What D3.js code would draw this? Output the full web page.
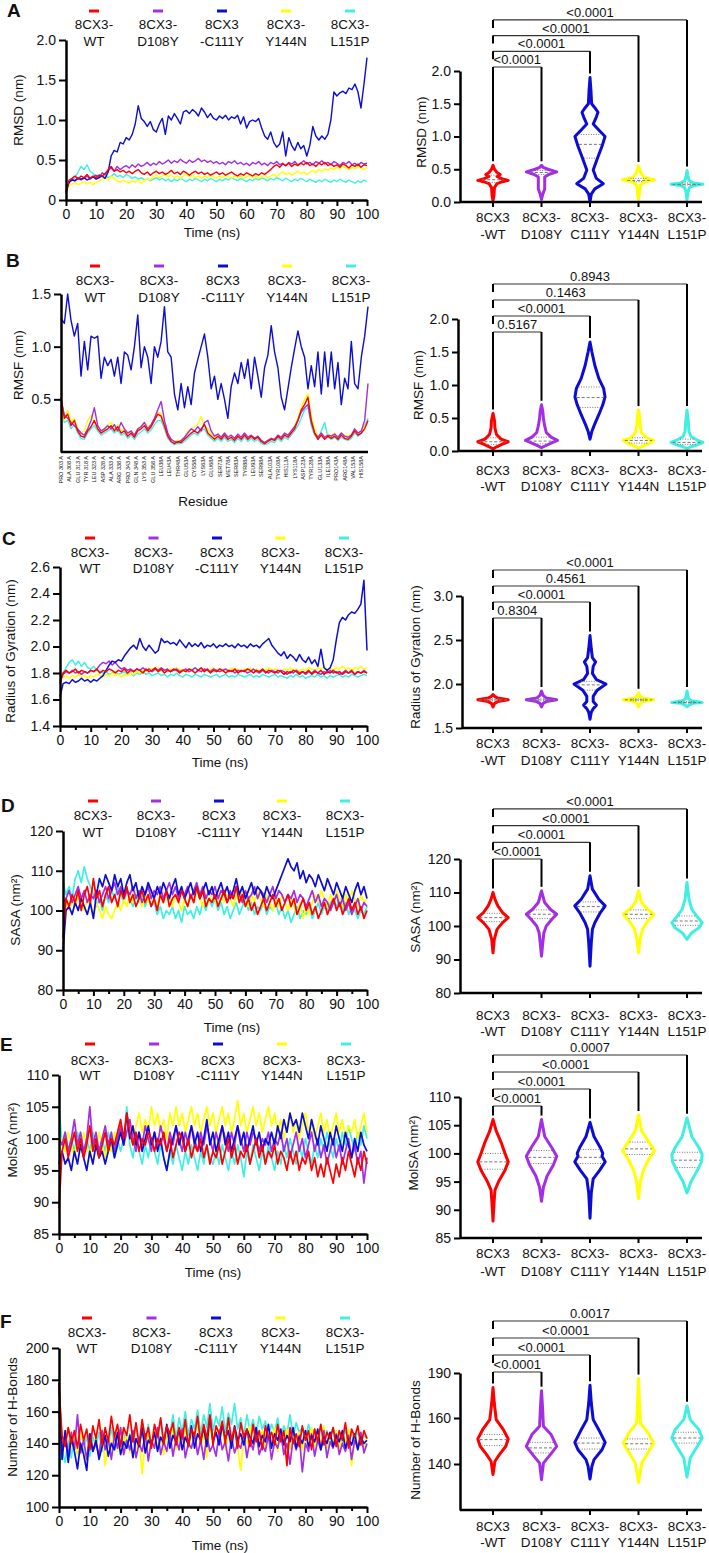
<!DOCTYPE html>
<html>
<head>
<meta charset="utf-8">
<script src="https://cdn.jsdelivr.net/npm/d3@7"></script>
<style>
  body { margin: 0; background: #fff; }
  svg text { font-family: "Liberation Sans", Arial, sans-serif; fill: #111; }
</style>
</head>
<body>
<svg id="fig" width="709" height="1553"></svg>
<script>
// --- Groups / labels ---
const groups = ["WT", "D108Y", "C111Y", "Y144N", "L151P"];
const groupColors = ["#ff0000", "#a32ee6", "#0c0cd4", "#ffff00", "#3ff0e2"];
const legendLines = [["8CX3-", "WT"], ["8CX3-", "D108Y"], ["8CX3", "-C111Y"], ["8CX3-", "Y144N"], ["8CX3-", "L151P"]];
const categoryLines = [["8CX3", "-WT"], ["8CX3-", "D108Y"], ["8CX3-", "C111Y"], ["8CX3-", "Y144N"], ["8CX3-", "L151P"]];
const timeTicks = [0, 5, 10, 15, 20, 25, 30, 35, 40, 45, 50, 55, 60, 65, 70, 75, 80, 85, 90, 95, 100];

const residueLabels = ["PRO 303 A","ALA 308 A","GLU 313 A","TYR 318 A","LEU 323 A","ASP 328 A","ALA 333 A","ARG 338 A",
  "PRO 343 A","GLN 348 A","LYS 353 A","GLU 358 A","LEU38A","LEU43A","THR48A","GLU53A","CYS58A","LYS63A","GLU68A",
  "SER73A","MET78A","SER83A","TYR88A","LEU93A","SER98A","ALA103A","TYR108A","HIS113A","LYS118A","ASP123A",
  "TYR128A","GLU133A","ILE138A","PRO143A","ARG148A","VAL153A","HIS158A"];

// --- RMSD (nm), 0..100 ns ---
const rmsdWT = [0.08,0.25,0.27,0.30,0.26,0.30,0.28,0.32,0.27,0.30,
  0.28,0.31,0.30,0.33,0.38,0.42,0.36,0.38,0.35,0.37,
  0.34,0.36,0.33,0.36,0.38,0.34,0.32,0.35,0.31,0.34,
  0.36,0.33,0.35,0.32,0.34,0.37,0.33,0.35,0.32,0.36,
  0.34,0.31,0.34,0.36,0.33,0.35,0.32,0.34,0.31,0.33,
  0.35,0.32,0.34,0.31,0.33,0.35,0.32,0.30,0.33,0.31,
  0.34,0.32,0.30,0.33,0.31,0.34,0.32,0.35,0.38,0.42,
  0.44,0.41,0.45,0.43,0.46,0.42,0.45,0.43,0.46,0.44,
  0.47,0.43,0.45,0.42,0.46,0.44,0.47,0.43,0.45,0.42,
  0.44,0.41,0.45,0.43,0.40,0.44,0.42,0.45,0.41,0.44,0.43];
const rmsdD108Y = [0.10,0.22,0.26,0.24,0.28,0.25,0.27,0.30,0.26,0.29,
  0.31,0.28,0.34,0.32,0.37,0.40,0.36,0.42,0.38,0.41,
  0.43,0.40,0.44,0.41,0.45,0.42,0.44,0.47,0.43,0.46,
  0.44,0.48,0.45,0.47,0.50,0.46,0.49,0.47,0.51,0.48,
  0.46,0.50,0.47,0.49,0.52,0.48,0.50,0.47,0.49,0.46,
  0.48,0.45,0.47,0.44,0.48,0.46,0.49,0.45,0.47,0.44,
  0.46,0.43,0.47,0.45,0.48,0.44,0.46,0.43,0.47,0.45,
  0.48,0.44,0.46,0.43,0.47,0.45,0.48,0.44,0.46,0.49,
  0.45,0.47,0.44,0.48,0.46,0.49,0.45,0.47,0.44,0.48,
  0.46,0.43,0.47,0.45,0.48,0.44,0.46,0.43,0.47,0.45,0.46];
const rmsdC111Y = [0.10,0.22,0.25,0.24,0.27,0.26,0.28,0.25,0.27,0.29,
  0.26,0.28,0.30,0.27,0.35,0.55,0.62,0.60,0.72,0.70,
  0.78,0.75,0.82,0.95,1.18,1.02,0.98,0.92,0.98,0.88,
  0.85,0.95,1.02,0.82,1.05,1.00,1.08,1.02,0.95,1.10,
  1.12,1.08,1.13,1.10,1.05,1.15,1.10,1.03,1.08,1.02,
  1.00,1.05,1.02,1.06,1.00,1.04,1.02,1.06,0.95,1.04,
  0.90,0.98,1.00,0.98,1.02,0.90,0.80,0.76,0.85,0.72,
  0.66,0.70,0.85,0.55,0.78,0.68,0.62,0.72,0.64,0.68,
  0.55,0.68,0.92,0.80,0.75,0.80,0.76,0.82,1.00,1.35,
  1.30,1.34,1.36,1.33,1.40,1.38,1.45,1.35,1.15,1.45,1.78];
const rmsdY144N = [0.08,0.18,0.20,0.22,0.19,0.21,0.23,0.20,0.22,0.19,
  0.22,0.24,0.26,0.28,0.25,0.30,0.27,0.24,0.22,0.25,
  0.23,0.21,0.24,0.22,0.25,0.21,0.24,0.27,0.25,0.29,
  0.31,0.28,0.30,0.32,0.29,0.31,0.28,0.30,0.27,0.30,
  0.32,0.29,0.31,0.28,0.30,0.27,0.30,0.28,0.31,0.29,
  0.27,0.30,0.28,0.31,0.29,0.27,0.30,0.28,0.30,0.27,
  0.29,0.31,0.28,0.30,0.27,0.29,0.31,0.28,0.30,0.32,
  0.29,0.33,0.35,0.32,0.34,0.31,0.33,0.36,0.33,0.35,
  0.32,0.35,0.37,0.34,0.38,0.36,0.39,0.37,0.40,0.38,
  0.41,0.39,0.42,0.40,0.38,0.41,0.39,0.42,0.40,0.38,0.41];
const rmsdL151P = [0.10,0.22,0.25,0.28,0.35,0.42,0.38,0.44,0.36,0.33,
  0.30,0.32,0.29,0.31,0.28,0.30,0.33,0.29,0.31,0.28,
  0.32,0.30,0.27,0.29,0.26,0.28,0.25,0.27,0.24,0.26,
  0.28,0.25,0.27,0.24,0.26,0.23,0.26,0.24,0.27,0.25,
  0.23,0.26,0.24,0.27,0.25,0.23,0.26,0.24,0.27,0.25,
  0.23,0.26,0.24,0.27,0.25,0.28,0.26,0.24,0.27,0.25,
  0.23,0.26,0.24,0.27,0.25,0.28,0.26,0.24,0.27,0.25,
  0.28,0.26,0.24,0.27,0.25,0.23,0.26,0.24,0.27,0.25,
  0.23,0.26,0.24,0.22,0.25,0.23,0.26,0.24,0.22,0.25,
  0.23,0.26,0.24,0.22,0.25,0.23,0.21,0.24,0.22,0.25,0.23];

// --- RMSF (nm), every 2nd residue along the chain ---
const rmsfWT = [0.52,0.32,0.36,0.25,0.30,0.20,0.15,0.14,0.20,0.24,
  0.30,0.22,0.18,0.20,0.22,0.25,0.20,0.24,0.18,0.20,
  0.15,0.18,0.14,0.20,0.22,0.25,0.20,0.24,0.30,0.36,
  0.34,0.25,0.15,0.10,0.08,0.10,0.09,0.12,0.15,0.18,
  0.20,0.18,0.22,0.26,0.18,0.15,0.12,0.15,0.12,0.16,
  0.12,0.14,0.11,0.15,0.12,0.16,0.12,0.15,0.12,0.14,
  0.10,0.08,0.10,0.12,0.11,0.15,0.12,0.16,0.14,0.18,
  0.22,0.30,0.40,0.45,0.52,0.30,0.18,0.12,0.16,0.12,
  0.15,0.13,0.15,0.12,0.16,0.13,0.12,0.15,0.20,0.16,
  0.18,0.22,0.30];
const rmsfD108Y = [0.50,0.35,0.32,0.28,0.25,0.22,0.18,0.16,0.22,0.30,
  0.42,0.25,0.20,0.22,0.25,0.22,0.26,0.20,0.28,0.22,
  0.18,0.20,0.16,0.22,0.24,0.28,0.22,0.26,0.32,0.40,
  0.48,0.30,0.18,0.12,0.10,0.09,0.11,0.14,0.18,0.22,
  0.20,0.24,0.20,0.28,0.30,0.20,0.15,0.17,0.14,0.18,
  0.14,0.16,0.13,0.17,0.14,0.18,0.14,0.16,0.13,0.15,
  0.11,0.09,0.11,0.13,0.12,0.16,0.14,0.18,0.16,0.20,
  0.24,0.30,0.38,0.42,0.45,0.28,0.18,0.14,0.18,0.14,
  0.16,0.15,0.17,0.14,0.18,0.15,0.14,0.16,0.22,0.18,
  0.20,0.30,0.65];
const rmsfC111Y = [1.27,1.22,1.50,1.25,1.10,1.22,0.72,1.05,0.78,1.10,
  1.08,1.10,0.70,0.90,0.82,0.88,0.72,0.90,0.65,0.95,
  0.92,0.78,1.00,1.30,0.80,1.00,0.90,0.65,1.00,0.90,
  1.05,1.38,0.95,0.90,0.55,0.40,0.65,0.42,0.62,0.45,
  0.75,0.88,1.00,1.12,0.90,0.60,0.72,0.50,0.65,0.50,
  0.32,0.62,0.75,0.65,0.85,0.70,0.88,0.60,0.90,0.72,
  0.52,0.80,0.92,1.20,0.95,0.80,0.52,0.40,0.60,0.80,
  0.98,1.15,1.00,0.90,0.60,0.82,0.62,0.95,0.55,0.95,
  0.62,0.95,0.60,0.85,0.45,0.70,0.60,1.05,0.65,0.60,
  0.90,1.10,1.38];
const rmsfY144N = [0.48,0.30,0.40,0.28,0.32,0.22,0.18,0.20,0.30,0.35,
  0.28,0.24,0.20,0.22,0.26,0.28,0.22,0.26,0.20,0.22,
  0.17,0.20,0.16,0.22,0.25,0.28,0.24,0.26,0.30,0.38,
  0.36,0.27,0.17,0.12,0.10,0.11,0.10,0.13,0.20,0.22,
  0.24,0.26,0.34,0.24,0.22,0.17,0.14,0.17,0.14,0.17,
  0.14,0.16,0.13,0.16,0.14,0.17,0.13,0.16,0.13,0.15,
  0.11,0.09,0.11,0.13,0.12,0.16,0.13,0.17,0.15,0.20,
  0.25,0.32,0.42,0.50,0.55,0.34,0.22,0.15,0.18,0.14,
  0.17,0.15,0.18,0.14,0.18,0.16,0.15,0.17,0.21,0.18,
  0.20,0.24,0.28];
const rmsfL151P = [0.45,0.28,0.30,0.22,0.26,0.18,0.13,0.12,0.18,0.22,
  0.25,0.20,0.16,0.18,0.20,0.22,0.18,0.21,0.16,0.18,
  0.13,0.16,0.12,0.17,0.19,0.22,0.18,0.21,0.26,0.30,
  0.30,0.22,0.13,0.09,0.07,0.08,0.08,0.10,0.13,0.16,
  0.18,0.16,0.20,0.22,0.16,0.13,0.10,0.13,0.10,0.14,
  0.10,0.12,0.09,0.13,0.10,0.14,0.10,0.13,0.10,0.12,
  0.08,0.07,0.08,0.10,0.09,0.13,0.10,0.14,0.12,0.16,
  0.20,0.25,0.32,0.40,0.42,0.25,0.16,0.12,0.20,0.28,
  0.14,0.12,0.14,0.11,0.14,0.12,0.11,0.13,0.18,0.15,
  0.18,0.25,0.32];

// --- Radius of gyration (nm) ---
const rgWT = [1.72,1.80,1.82,1.80,1.81,1.83,1.80,1.82,1.81,1.80,
  1.82,1.81,1.83,1.80,1.82,1.81,1.83,1.82,1.80,1.82,
  1.81,1.83,1.80,1.82,1.81,1.83,1.82,1.80,1.83,1.81,
  1.82,1.84,1.81,1.83,1.80,1.82,1.81,1.83,1.82,1.80,
  1.82,1.81,1.83,1.82,1.80,1.82,1.84,1.81,1.83,1.80,
  1.82,1.81,1.83,1.82,1.80,1.82,1.81,1.83,1.80,1.82,
  1.81,1.83,1.82,1.80,1.82,1.81,1.83,1.80,1.82,1.81,
  1.80,1.82,1.81,1.79,1.81,1.80,1.82,1.81,1.79,1.81,
  1.80,1.82,1.79,1.81,1.80,1.82,1.79,1.81,1.80,1.82,
  1.80,1.81,1.79,1.81,1.80,1.82,1.79,1.81,1.80,1.81,1.80];
const rgD108Y = [1.74,1.79,1.81,1.80,1.82,1.80,1.81,1.79,1.81,1.80,
  1.82,1.81,1.83,1.86,1.88,1.87,1.89,1.86,1.88,1.85,
  1.83,1.84,1.82,1.83,1.81,1.83,1.82,1.84,1.82,1.83,
  1.81,1.83,1.82,1.84,1.82,1.83,1.81,1.82,1.83,1.81,
  1.82,1.83,1.81,1.82,1.84,1.82,1.81,1.83,1.82,1.81,
  1.83,1.82,1.81,1.82,1.83,1.81,1.82,1.80,1.82,1.81,
  1.82,1.80,1.81,1.83,1.81,1.80,1.82,1.81,1.80,1.82,
  1.81,1.80,1.82,1.81,1.79,1.81,1.80,1.82,1.80,1.81,
  1.79,1.81,1.80,1.82,1.80,1.79,1.81,1.80,1.82,1.80,
  1.81,1.79,1.80,1.82,1.80,1.81,1.79,1.81,1.80,1.82,1.80];
const rgC111Y = [1.62,1.72,1.73,1.72,1.75,1.73,1.74,1.76,1.74,1.75,
  1.73,1.75,1.74,1.76,1.78,1.82,1.86,1.89,1.88,1.90,
  1.89,1.93,1.96,1.99,2.01,1.98,2.06,2.00,1.97,2.01,
  1.98,1.95,1.97,2.06,2.03,2.04,2.02,2.03,2.01,2.05,
  2.02,1.99,2.03,2.00,2.02,2.00,2.03,1.99,2.01,2.00,
  2.02,1.99,2.01,2.00,2.02,2.00,2.01,1.99,2.02,2.00,
  2.01,1.99,2.02,2.00,2.01,1.99,2.02,2.04,2.06,2.01,
  1.98,1.95,1.93,1.96,1.91,1.94,1.92,1.89,1.94,1.90,
  1.88,1.92,1.87,1.90,1.85,1.98,1.84,1.82,1.84,1.90,
  2.05,2.18,2.22,2.20,2.24,2.26,2.25,2.28,2.32,2.50,1.97];
const rgY144N = [1.76,1.77,1.78,1.76,1.78,1.77,1.79,1.77,1.78,1.76,
  1.78,1.77,1.79,1.78,1.77,1.79,1.78,1.80,1.78,1.79,
  1.77,1.79,1.78,1.80,1.79,1.81,1.80,1.82,1.81,1.84,
  1.83,1.82,1.84,1.82,1.83,1.81,1.83,1.82,1.84,1.82,
  1.83,1.81,1.83,1.82,1.84,1.82,1.83,1.81,1.83,1.82,
  1.84,1.82,1.83,1.81,1.83,1.82,1.84,1.82,1.83,1.81,
  1.83,1.82,1.84,1.82,1.83,1.81,1.83,1.82,1.84,1.82,
  1.83,1.82,1.81,1.83,1.82,1.84,1.82,1.83,1.81,1.83,
  1.82,1.84,1.83,1.82,1.84,1.83,1.85,1.83,1.84,1.82,
  1.84,1.83,1.85,1.83,1.84,1.82,1.84,1.83,1.85,1.83,1.84];
const rgL151P = [1.76,1.80,1.84,1.88,1.90,1.86,1.89,1.85,1.88,1.84,
  1.83,1.85,1.82,1.81,1.80,1.81,1.79,1.80,1.81,1.79,
  1.80,1.81,1.79,1.80,1.78,1.80,1.79,1.81,1.79,1.80,
  1.78,1.79,1.80,1.78,1.79,1.77,1.79,1.78,1.80,1.78,
  1.77,1.79,1.78,1.77,1.79,1.78,1.77,1.79,1.78,1.77,
  1.78,1.79,1.77,1.78,1.79,1.77,1.78,1.77,1.79,1.78,
  1.77,1.78,1.79,1.77,1.78,1.77,1.79,1.78,1.77,1.78,
  1.79,1.77,1.78,1.77,1.76,1.78,1.77,1.79,1.77,1.78,
  1.76,1.77,1.78,1.77,1.79,1.77,1.78,1.76,1.78,1.77,
  1.78,1.79,1.77,1.78,1.77,1.79,1.78,1.77,1.78,1.79,1.78];

// --- SASA (nm2) ---
const sasaWT = [93,103,101,104,102,105,100,104,106,102,
  108,103,105,101,104,106,102,104,101,105,
  103,106,102,104,101,103,105,102,104,101,
  103,100,104,102,105,101,103,104,102,105,
  103,101,104,102,106,103,105,101,103,102,
  104,101,103,105,102,104,103,106,102,104,
  101,103,100,102,99,101,103,100,102,104,
  101,103,100,102,104,101,103,99,101,103,
  100,102,99,101,98,100,102,99,101,103,
  100,102,99,101,103,100,102,99,101,98,100];
const sasaD108Y = [102,103,105,102,104,106,103,105,102,104,
  103,105,102,104,106,103,105,107,104,106,
  103,105,104,106,103,105,102,104,106,103,
  105,104,106,103,105,107,104,106,103,105,
  104,106,103,105,107,104,106,103,105,104,
  106,103,105,104,102,105,103,106,104,102,
  105,103,104,106,103,105,104,102,104,106,
  103,105,104,102,104,103,105,102,104,103,
  101,103,105,102,104,101,103,102,100,102,
  104,101,103,100,102,99,101,103,100,102,101];
const sasaC111Y = [90,100,101,99,102,100,103,101,99,102,
  98,104,108,106,109,107,105,109,106,108,
  104,107,109,105,107,103,106,104,107,105,
  103,106,104,107,105,103,106,108,104,106,
  103,105,107,104,106,103,105,107,104,106,
  103,105,107,104,106,103,105,108,104,106,
  103,105,107,104,106,105,103,106,104,103,
  105,107,109,111,113,111,110,112,108,110,
  107,109,108,106,109,107,105,108,106,104,
  107,105,103,106,104,102,105,107,104,106,103];
const sasaY144N = [100,102,100,103,101,104,102,100,103,101,
  99,102,100,98,101,99,98,100,102,100,
  103,101,104,102,105,103,101,104,102,105,
  103,101,104,102,105,103,101,104,102,100,
  103,101,104,102,105,103,101,104,102,105,
  103,101,104,102,104,103,101,104,102,105,
  103,101,104,102,105,103,101,104,102,100,
  103,101,104,102,100,103,101,99,102,98,
  101,99,102,104,102,105,103,101,104,102,
  105,103,101,104,102,105,103,101,104,102,103];
const sasaL151P = [107,104,106,103,108,110,107,111,108,106,
  104,101,103,100,104,102,105,103,106,104,
  102,105,103,101,104,102,104,101,103,101,
  102,99,101,98,100,99,101,98,100,97,
  101,99,100,98,101,99,102,100,103,101,
  103,100,102,99,101,98,100,102,99,101,
  103,100,102,99,101,100,102,99,101,100,
  102,99,101,98,100,97,99,101,98,100,
  99,101,98,100,102,99,101,100,102,103,
  101,103,100,102,99,101,100,98,100,99,101];

// --- MolSA (nm2) ---
const molWT = [89,98,100,97,99,101,98,100,97,99,
  102,98,100,97,99,101,98,100,99,101,
  103,100,104,101,99,101,98,100,99,101,
  100,98,100,99,101,98,100,97,99,101,
  100,98,100,97,99,98,100,97,99,96,
  98,97,99,96,98,100,97,99,96,98,
  97,99,96,98,100,97,99,96,98,97,
  99,96,98,97,95,98,96,98,95,97,
  96,98,95,97,94,96,94,97,95,93,
  96,94,97,95,98,96,94,97,95,98,96];
const molD108Y = [100,99,101,98,100,103,99,101,98,100,
  105,99,101,98,100,102,99,101,98,100,
  102,99,101,103,100,98,101,99,102,100,
  98,101,99,102,100,98,101,99,102,100,
  98,101,99,102,100,98,101,99,102,100,
  98,101,99,102,100,98,101,99,102,100,
  98,101,99,101,100,98,100,99,101,98,
  100,99,101,98,100,97,99,101,98,100,
  97,99,101,98,100,97,99,96,98,100,
  97,99,96,98,100,97,99,96,98,93,97];
const molC111Y = [96,98,96,97,95,98,96,99,97,95,
  98,96,99,97,98,96,98,100,97,99,
  101,99,104,100,102,99,101,98,100,102,
  99,101,98,100,97,95,98,100,102,99,
  101,98,100,102,99,101,98,100,103,99,
  101,98,100,102,99,101,98,100,102,99,
  101,98,100,102,99,101,98,100,99,101,
  99,102,100,103,101,104,102,103,101,104,
  102,100,103,101,99,102,100,98,101,99,
  102,100,98,101,99,97,100,98,101,99,98];
const molY144N = [98,100,98,101,99,97,100,98,101,99,
  97,100,98,101,99,97,100,98,101,99,
  102,100,103,101,99,102,104,101,103,101,
  105,102,104,101,103,100,104,102,105,102,
  104,101,103,105,102,104,101,103,105,102,
  104,101,103,105,102,104,101,103,106,102,
  104,101,103,105,102,104,101,103,105,102,
  104,101,103,100,102,104,101,103,100,102,
  104,101,103,100,102,104,101,103,100,102,
  104,101,103,100,102,101,103,100,102,104,101];
const molL151P = [105,99,101,98,100,98,101,99,97,100,
  98,101,99,97,100,98,101,99,97,100,
  98,100,105,99,97,100,98,96,99,97,
  100,98,96,99,97,95,98,96,99,97,
  95,98,96,99,97,95,98,96,99,97,
  96,98,96,99,97,95,98,96,99,97,
  94,98,96,99,97,95,98,96,99,97,
  95,98,96,99,97,100,98,96,99,97,
  100,98,96,99,97,100,98,101,99,97,
  100,98,101,99,102,100,98,101,99,102,100];

// --- Number of H-bonds ---
const hbWT = [175,145,138,150,140,148,137,152,142,149,
  136,151,143,155,139,150,141,157,144,152,
  138,150,145,158,141,153,139,155,143,150,
  137,152,144,156,140,151,146,153,139,150,
  143,155,138,149,145,157,140,152,143,158,
  139,151,146,154,140,156,142,150,137,153,
  144,149,138,152,141,148,136,151,143,147,
  139,152,141,148,126,150,140,146,138,151,
  142,148,136,149,141,152,139,147,143,150,
  138,148,142,153,137,149,144,151,139,148,143];
const hbD108Y = [160,138,145,132,147,136,158,134,142,130,
  146,135,140,132,148,136,143,130,145,137,
  150,133,142,136,148,131,140,135,146,129,
  142,137,150,133,141,135,147,132,143,136,
  149,131,140,137,146,133,142,130,145,135,
  139,132,147,136,141,129,144,134,140,137,
  146,131,142,136,148,133,139,135,145,130,
  141,137,147,133,140,127,143,136,145,122,
  140,135,146,132,142,136,148,131,141,137,
  146,133,140,135,145,130,142,137,147,134,140];
const hbC111Y = [178,130,148,128,144,135,124,140,133,123,
  146,135,142,130,138,145,132,140,136,147,
  133,141,137,145,131,143,138,150,134,142,
  139,147,135,144,140,152,137,145,141,149,
  136,144,139,151,137,146,142,150,138,157,
  141,147,139,152,143,148,137,151,142,146,
  139,149,144,140,150,138,145,141,152,137,
  146,142,149,139,145,141,150,137,144,140,
  148,138,145,141,149,136,144,140,147,138,
  145,141,148,137,143,139,146,136,144,140,142];
const hbY144N = [182,135,142,150,137,145,133,148,140,128,
  146,136,143,132,149,126,144,138,147,135,
  150,139,145,134,148,137,143,121,140,146,
  136,149,138,144,133,147,139,152,136,145,
  141,150,137,146,142,155,138,147,131,150,
  143,148,139,152,136,145,141,149,137,123,
  144,140,151,136,146,142,148,138,145,139,
  150,135,146,141,149,137,144,140,147,136,
  145,142,150,138,146,139,151,137,144,140,
  148,136,145,141,149,126,143,139,147,137,144];
const hbL151P = [125,135,128,142,131,146,133,140,136,145,
  132,144,138,147,135,143,139,150,136,145,
  141,149,137,146,142,151,138,147,140,152,
  139,148,143,153,141,150,145,158,143,156,
  147,160,145,155,149,161,146,158,150,165,
  148,157,151,163,147,159,152,165,149,156,
  145,158,148,155,146,157,149,154,145,152,
  147,156,143,151,146,158,144,153,147,150,
  143,152,145,149,141,151,144,148,140,150,
  143,147,139,149,142,146,140,148,141,145,143];

// --- Violin outlines: [value, relative density] per group, and [Q1, median, Q3] ---
const violinRMSD = [
  [[0.02,0],[0.1,0.06],[0.22,0.09],[0.28,0.25],[0.31,0.6],[0.33,0.95],[0.35,0.6],[0.39,0.25],[0.42,0.45],[0.45,0.25],[0.5,0.09],[0.56,0]],
  [[0.04,0],[0.12,0.08],[0.2,0.2],[0.3,0.2],[0.38,0.2],[0.42,0.45],[0.46,0.95],[0.5,0.4],[0.53,0.1],[0.56,0]],
  [[0.0,0],[0.12,0.08],[0.2,0.3],[0.28,0.83],[0.36,0.4],[0.49,0.2],[0.69,0.5],[0.85,0.75],[1.0,0.94],[1.1,0.55],[1.19,0.2],[1.3,0.4],[1.37,0.5],[1.44,0.3],[1.5,0.1],[1.7,0.06],[1.9,0]],
  [[0.03,0],[0.15,0.06],[0.26,0.12],[0.31,0.4],[0.34,1.0],[0.37,0.4],[0.42,0.2],[0.47,0.1],[0.55,0]],
  [[0.03,0],[0.15,0.06],[0.22,0.15],[0.25,0.4],[0.27,1.0],[0.29,0.4],[0.33,0.12],[0.4,0.06],[0.48,0]]
];
const quartRMSD = [[0.30,0.34,0.41],[0.42,0.45,0.48],[0.67,0.88,1.03],[0.31,0.33,0.36],[0.26,0.27,0.29]];
const violinRMSF = [
  [[0.03,0],[0.06,0.2],[0.1,0.55],[0.14,0.95],[0.18,0.5],[0.25,0.22],[0.35,0.12],[0.45,0.1],[0.57,0]],
  [[0.05,0],[0.08,0.25],[0.12,0.6],[0.16,1.0],[0.21,0.6],[0.28,0.3],[0.4,0.18],[0.5,0.12],[0.6,0.08],[0.7,0]],
  [[0.18,0],[0.3,0.12],[0.4,0.28],[0.55,0.55],[0.7,0.8],[0.82,0.94],[0.95,0.85],[1.1,0.55],[1.3,0.3],[1.5,0.12],[1.65,0]],
  [[0.04,0],[0.08,0.3],[0.12,0.7],[0.16,0.95],[0.2,0.5],[0.28,0.18],[0.4,0.1],[0.5,0.08],[0.62,0]],
  [[0.03,0],[0.06,0.2],[0.09,0.6],[0.13,1.0],[0.17,0.6],[0.22,0.25],[0.3,0.12],[0.45,0.08],[0.62,0]]
];
const quartRMSF = [[0.10,0.14,0.20],[0.11,0.15,0.21],[0.66,0.81,0.97],[0.12,0.16,0.20],[0.10,0.13,0.18]];
const violinRg = [
  [[1.74,0],[1.78,0.1],[1.8,0.3],[1.82,0.95],[1.84,0.3],[1.86,0.1],[1.88,0]],
  [[1.74,0],[1.78,0.1],[1.8,0.3],[1.82,0.95],[1.84,0.3],[1.87,0.1],[1.92,0]],
  [[1.6,0],[1.68,0.08],[1.72,0.2],[1.76,0.4],[1.8,0.2],[1.86,0.2],[1.93,0.45],[2.0,1.0],[2.05,0.4],[2.12,0.15],[2.2,0.2],[2.25,0.35],[2.3,0.15],[2.4,0.08],[2.55,0]],
  [[1.74,0],[1.78,0.1],[1.8,0.25],[1.82,0.95],[1.84,0.25],[1.86,0.1],[1.9,0]],
  [[1.74,0],[1.76,0.12],[1.78,0.35],[1.79,0.95],[1.81,0.3],[1.83,0.1],[1.87,0.05],[1.92,0]]
];
const quartRg = [[1.81,1.82,1.83],[1.81,1.82,1.83],[1.93,1.99,2.03],[1.81,1.82,1.83],[1.785,1.79,1.80]];
const violinSASA = [
  [[92,0],[96,0.08],[99,0.25],[101,0.6],[102.5,0.95],[104,0.6],[106,0.3],[108,0.12],[110,0]],
  [[91,0],[95,0.08],[98,0.15],[100,0.3],[102,0.65],[103.5,0.95],[105,0.55],[107,0.2],[110.5,0]],
  [[88,0],[95,0.08],[99,0.15],[101,0.3],[104,0.65],[106,0.95],[108,0.55],[111,0.15],[115,0]],
  [[92,0],[96,0.1],[99,0.25],[101,0.5],[103.5,0.95],[105,0.55],[107,0.2],[110.5,0]],
  [[96,0],[98,0.3],[99.5,0.75],[101,0.95],[103,0.6],[105,0.3],[108,0.12],[113,0]]
];
const quartSASA = [[101.3,102.5,103.8],[102.2,103.5,104.8],[104.2,105.8,107.2],[102.2,103.5,104.8],[100.2,101.5,103]];
const violinMolSA = [
  [[88,0],[91,0.06],[93.5,0.12],[95,0.35],[97,0.75],[98.5,0.95],[100,0.75],[102,0.5],[104,0.2],[106,0]],
  [[91.5,0],[94,0.12],[96,0.35],[98,0.75],[99.5,0.95],[101,0.65],[103,0.2],[106,0]],
  [[88.5,0],[93,0.08],[95.5,0.2],[97,0.6],[98.5,0.95],[99.5,0.75],[100,0.8],[101,0.65],[103,0.25],[105.5,0]],
  [[92,0],[95,0.12],[97,0.3],[99,0.65],[100.5,1.0],[102,0.65],[104,0.2],[106.8,0]],
  [[93,0],[95,0.25],[97,0.65],[98.5,0.9],[99.8,0.95],[101,0.75],[103,0.3],[106.3,0]]
];
const quartMolSA = [[97.2,98.5,100],[98.2,99.3,100.5],[98.2,99.3,100.7],[99.8,100.8,102],[97.5,98.8,100.2]];
const violinHB = [
  [[135.4,0],[141.2,0.12],[144.1,0.4],[147.7,0.8],[150.9,0.95],[154.9,0.65],[159.3,0.2],[170,0.08],[180.4,0]],
  [[133.2,0],[140.4,0.12],[144.5,0.6],[147.7,0.95],[152.8,0.6],[156.4,0.12],[168,0.06],[178.2,0]],
  [[133.5,0],[139,0.12],[141.9,0.25],[146.2,0.75],[149.4,0.95],[154.2,0.6],[159.3,0.2],[170,0.08],[181.9,0]],
  [[132,0],[140.4,0.2],[145,0.6],[149.1,0.95],[153.5,0.6],[157.8,0.12],[170,0.06],[186.3,0]],
  [[134.3,0],[142.6,0.2],[147.7,0.65],[151.3,0.95],[154.9,0.75],[159.3,0.2],[168.1,0]]
];
const quartHB = [[148,150.6,152.8],[144.8,147,149.4],[146.5,149.1,151.3],[146.5,148.8,150.9],[149.1,151.3,153.8]];

// --- p-values: WT vs D108Y, C111Y, Y144N, L151P ---
const pRMSD = ["<0.0001", "<0.0001", "<0.0001", "<0.0001"];
const pRMSF = ["0.5167", "<0.0001", "0.1463", "0.8943"];
const pRg = ["0.8304", "<0.0001", "0.4561", "<0.0001"];
const pSASA = ["<0.0001", "<0.0001", "<0.0001", "<0.0001"];
const pMolSA = ["<0.0001", "<0.0001", "<0.0001", "0.0007"];
const pHB = ["<0.0001", "<0.0001", "<0.0001", "0.0017"];

// --- Setup ---
const svg = d3.select("#fig");
const f1 = d3.format(".1f");
const drawOrder = [4, 3, 1, 2, 0];   // red on top

function styleAxis(sel) {
  sel.attr("font-family", null).attr("font-size", null);
  sel.select(".domain").attr("stroke", "#000").attr("stroke-width", 2.5);
  sel.selectAll(".tick line").attr("stroke", "#000").attr("stroke-width", 2);
  sel.selectAll(".tick text").style("font-size", "14px");
}

function drawLegend(cfg) {
  groups.forEach((grp, i) => {
    const cx = cfg.legX + i * cfg.legStep;
    svg.append("line")
      .attr("x1", cx - 5).attr("x2", cx + 5)
      .attr("y1", cfg.legY[0]).attr("y2", cfg.legY[0])
      .attr("stroke", groupColors[i]).attr("stroke-width", 3);
    legendLines[i].forEach((t, k) => {
      svg.append("text").attr("x", cx).attr("y", cfg.legY[k + 1])
        .attr("text-anchor", "middle").style("font-size", "13.5px").text(t);
    });
  });
}

function yTitle(txt, x, y) {
  svg.append("text")
    .attr("transform", `translate(${x},${y}) rotate(-90)`)
    .attr("text-anchor", "middle").attr("dy", "0.35em")
    .style("font-size", "13.5px").text(txt);
}

// --- Time / residue line panels ---
function drawLinePanel(cfg) {
  svg.append("text").attr("x", cfg.letterPos[0]).attr("y", cfg.letterPos[1])
    .style("font-size", "19px").style("font-weight", "bold").text(cfg.letter);
  drawLegend(cfg);

  const x = d3.scaleLinear().domain(cfg.xDom).range([cfg.x0, cfg.x1]);
  const y = d3.scaleLinear().domain(cfg.yDom).range(cfg.yPix);

  drawOrder.forEach(i => {
    const vals = cfg.series[i];
    const step = (cfg.xDom[1] - cfg.xDom[0]) / (vals.length - 1);
    svg.append("path").datum(vals)
      .attr("fill", "none").attr("stroke", groupColors[i])
      .attr("stroke-width", cfg.lineW).attr("stroke-linejoin", "round")
      .attr("d", d3.line().x((d, j) => x(cfg.xDom[0] + j * step)).y(d => y(d)));
  });

  const yAx = svg.append("g").attr("transform", `translate(${cfg.x0},0)`)
    .call(d3.axisLeft(y).tickValues(cfg.yTicks).tickFormat(cfg.yFmt).tickSize(7).tickSizeOuter(0));
  styleAxis(yAx);

  if (cfg.residues) {
    svg.append("line").attr("x1", cfg.x0).attr("x2", cfg.x1)
      .attr("y1", cfg.yPix[0]).attr("y2", cfg.yPix[0])
      .attr("stroke", "#000").attr("stroke-width", 2.5);
    residueLabels.forEach((lab, i) => {
      svg.append("text")
        .attr("transform", `translate(${x(i * 5) + 2},${cfg.yPix[0] + 4}) rotate(-90)`)
        .attr("text-anchor", "end").style("font-size", "5.5px").text(lab);
    });
  } else {
    const xAx = svg.append("g").attr("transform", `translate(0,${cfg.yPix[0]})`)
      .call(d3.axisBottom(x).tickValues(timeTicks).tickFormat(d => d % 10 === 0 ? d : "").tickSize(6).tickSizeOuter(0));
    styleAxis(xAx);
    xAx.selectAll(".tick").filter(d => d % 10 !== 0).select("line").attr("y2", 4);
  }

  svg.append("text").attr("x", cfg.xTitle[0]).attr("y", cfg.xTitle[1])
    .attr("text-anchor", "middle").style("font-size", "13.5px").text(cfg.xTitleText);
  yTitle(cfg.yTitleText, cfg.yTitlePos[0], cfg.yTitlePos[1]);
}

// --- Violin panels ---
function widthAt(prof, v) {
  for (let k = 1; k < prof.length; k++) {
    if (v <= prof[k][0]) {
      const a = prof[k - 1], b = prof[k];
      const t = (v - a[0]) / (b[0] - a[0]);
      return a[1] + t * (b[1] - a[1]);
    }
  }
  return 0;
}

function drawViolinPanel(cfg) {
  const x = d3.scalePoint().domain(groups).range([493, 687]);
  const y = d3.scaleLinear().domain(cfg.yDom).range(cfg.yPix);
  const w = d3.scaleLinear().domain([0, 1]).range([0, 16]);
  const yBase = cfg.yPix[0];

  // brackets
  const tops = cfg.profiles.map(p => d3.max(p, d => d[0]));
  cfg.pvals.forEach((lab, k) => {
    const j = k + 1;
    const by = cfg.bracketY0 - k * cfg.bracketStep;
    const xl = x(groups[0]), xr = x(groups[j]);
    svg.append("line").attr("x1", xl).attr("x2", xr).attr("y1", by).attr("y2", by)
      .attr("stroke", "#333").attr("stroke-width", 1.2);
    svg.append("line").attr("x1", xr).attr("x2", xr).attr("y1", by).attr("y2", y(tops[j]) - 4)
      .attr("stroke", "#000").attr("stroke-width", 2);
    svg.append("line").attr("x1", xl).attr("x2", xl).attr("y1", by)
      .attr("y2", k === 0 ? y(tops[0]) - 4 : by + 8)
      .attr("stroke", "#000").attr("stroke-width", 2);
    svg.append("text").attr("x", (xl + xr) / 2).attr("y", by - 3)
      .attr("text-anchor", "middle").style("font-size", "13px").text(lab);
  });

  // violins
  cfg.profiles.forEach((prof, i) => {
    const cx = x(groups[i]);
    const area = d3.area().y(d => y(d[0])).x0(d => cx - w(d[1])).x1(d => cx + w(d[1]));
    svg.append("path").datum(prof).attr("d", area)
      .attr("fill", "#fff").attr("stroke", groupColors[i])
      .attr("stroke-width", 3).attr("stroke-linejoin", "round");
    cfg.quarts[i].forEach((q, k) => {
      const hw = Math.max(w(widthAt(prof, q)) - 1.5, 2);
      svg.append("line").attr("x1", cx - hw).attr("x2", cx + hw)
        .attr("y1", y(q)).attr("y2", y(q))
        .attr("stroke", "#777").attr("stroke-width", 1)
        .attr("stroke-dasharray", k === 1 ? "3,2" : "1,1.5");
    });
  });

  // axes
  const yAx = svg.append("g").attr("transform", `translate(${cfg.axisX},0)`)
    .call(d3.axisLeft(y).tickValues(cfg.yTicks).tickFormat(cfg.yFmt).tickSize(6).tickSizeOuter(0));
  styleAxis(yAx);
  svg.append("line").attr("x1", cfg.axisX).attr("x2", 702).attr("y1", yBase).attr("y2", yBase)
    .attr("stroke", "#000").attr("stroke-width", 2.5);
  groups.forEach((grp, i) => {
    svg.append("line").attr("x1", x(grp)).attr("x2", x(grp)).attr("y1", yBase).attr("y2", yBase + 5)
      .attr("stroke", "#000").attr("stroke-width", 2);
    categoryLines[i].forEach((t, k) => {
      svg.append("text").attr("x", x(grp)).attr("y", cfg.catY[k])
        .attr("text-anchor", "middle").style("font-size", "13.5px").text(t);
    });
  });
  yTitle(cfg.yTitleText, cfg.yTitlePos[0], cfg.yTitlePos[1]);
}

// --- Panel layouts ---
const fmtLeftRMSD = d => d === 0 ? "0" : f1(d);

drawLinePanel({ letter: "A", letterPos: [7, 17], legX: 94, legStep: 64, legY: [11, 29, 46], lineW: 1.4,
  x0: 66, x1: 367, xDom: [0, 100], yDom: [0, 2], yPix: [200, 40], yTicks: [0, 0.5, 1, 1.5, 2], yFmt: fmtLeftRMSD,
  xTitleText: "Time (ns)", xTitle: [212, 237], yTitleText: "RMSD (nm)", yTitlePos: [18, 110],
  series: [rmsdWT, rmsdD108Y, rmsdC111Y, rmsdY144N, rmsdL151P] });
drawViolinPanel({ axisX: 460, yDom: [0, 2], yPix: [202, 71], yTicks: [0, 0.5, 1, 1.5, 2], yFmt: f1,
  profiles: violinRMSD, quarts: quartRMSD, pvals: pRMSD, bracketY0: 67, bracketStep: 15.7,
  catY: [222, 239], yTitleText: "RMSD (nm)", yTitlePos: [421, 132] });

drawLinePanel({ letter: "B", letterPos: [6, 267], legX: 95, legStep: 64, legY: [266, 285, 302], lineW: 1.4,
  x0: 61, x1: 368, xDom: [0, 184], yDom: [0, 1.5], yPix: [452, 294], yTicks: [0.5, 1, 1.5], yFmt: f1,
  residues: true, xTitleText: "Residue", xTitle: [203, 506], yTitleText: "RMSF (nm)", yTitlePos: [18, 365],
  series: [rmsfWT, rmsfD108Y, rmsfC111Y, rmsfY144N, rmsfL151P] });
drawViolinPanel({ axisX: 458, yDom: [0, 2], yPix: [451, 319], yTicks: [0, 0.5, 1, 1.5, 2], yFmt: f1,
  profiles: violinRMSF, quarts: quartRMSF, pvals: pRMSF, bracketY0: 332, bracketStep: 16,
  catY: [475, 491], yTitleText: "RMSF (nm)", yTitlePos: [418, 385] });

drawLinePanel({ letter: "C", letterPos: [2, 545], legX: 90, legStep: 63.5, legY: [538, 557, 573], lineW: 1.5,
  x0: 60, x1: 367, xDom: [0, 100], yDom: [1.4, 2.6], yPix: [726, 567], yTicks: [1.4, 1.6, 1.8, 2.0, 2.2, 2.4, 2.6], yFmt: f1,
  xTitleText: "Time (ns)", xTitle: [220, 767], yTitleText: "Radius of Gyration (nm)", yTitlePos: [10, 651],
  series: [rgWT, rgD108Y, rgC111Y, rgY144N, rgL151P] });
drawViolinPanel({ axisX: 462, yDom: [1.5, 3.0], yPix: [728, 596], yTicks: [1.5, 2.0, 2.5, 3.0], yFmt: f1,
  profiles: violinRg, quarts: quartRg, pvals: pRg, bracketY0: 618, bracketStep: 16,
  catY: [748, 765], yTitleText: "Radius of Gyration (nm)", yTitlePos: [415, 657] });

drawLinePanel({ letter: "D", letterPos: [1, 812], legX: 93, legStep: 63, legY: [801, 820, 837], lineW: 1.7,
  x0: 63, x1: 367, xDom: [0, 100], yDom: [80, 120], yPix: [990, 831], yTicks: [80, 90, 100, 110, 120], yFmt: d3.format("d"),
  xTitleText: "Time (ns)", xTitle: [232, 1032], yTitleText: "SASA (nm²)", yTitlePos: [15, 910],
  series: [sasaWT, sasaD108Y, sasaC111Y, sasaY144N, sasaL151P] });
drawViolinPanel({ axisX: 460, yDom: [80, 120], yPix: [993, 859], yTicks: [80, 90, 100, 110, 120], yFmt: d3.format("d"),
  profiles: violinSASA, quarts: quartSASA, pvals: pSASA, bracketY0: 859, bracketStep: 16.7,
  catY: [1020, 1036], yTitleText: "SASA (nm²)", yTitlePos: [415, 917] });

drawLinePanel({ letter: "E", letterPos: [0, 1051], legX: 90, legStep: 64, legY: [1044, 1065, 1080], lineW: 1.7,
  x0: 59, x1: 367, xDom: [0, 100], yDom: [85, 110], yPix: [1234, 1075], yTicks: [85, 90, 95, 100, 105, 110], yFmt: d3.format("d"),
  xTitleText: "Time (ns)", xTitle: [213, 1277], yTitleText: "MolSA (nm²)", yTitlePos: [12, 1140],
  series: [molWT, molD108Y, molC111Y, molY144N, molL151P] });
drawViolinPanel({ axisX: 460, yDom: [85, 110], yPix: [1238, 1097], yTicks: [85, 90, 95, 100, 105, 110], yFmt: d3.format("d"),
  profiles: violinMolSA, quarts: quartMolSA, pvals: pMolSA, bracketY0: 1106, bracketStep: 17,
  catY: [1258, 1276], yTitleText: "MolSA (nm²)", yTitlePos: [413, 1153] });

drawLinePanel({ letter: "F", letterPos: [0, 1328], legX: 87, legStep: 64.5, legY: [1318, 1337, 1353], lineW: 1.7,
  x0: 59, x1: 367, xDom: [0, 100], yDom: [100, 200], yPix: [1507, 1348], yTicks: [100, 120, 140, 160, 180, 200], yFmt: d3.format("d"),
  xTitleText: "Time (ns)", xTitle: [220, 1550], yTitleText: "Number of H-Bonds", yTitlePos: [12, 1417],
  series: [hbWT, hbD108Y, hbC111Y, hbY144N, hbL151P] });
drawViolinPanel({ axisX: 460, yDom: [120, 140, 160, 190], yPix: [1510, 1464, 1418, 1373], yTicks: [140, 160, 190], yFmt: d3.format("d"),
  profiles: violinHB, quarts: quartHB, pvals: pHB, bracketY0: 1372, bracketStep: 17,
  catY: [1531, 1547], yTitleText: "Number of H-Bonds", yTitlePos: [415, 1440] });
</script>
</body>
</html>
